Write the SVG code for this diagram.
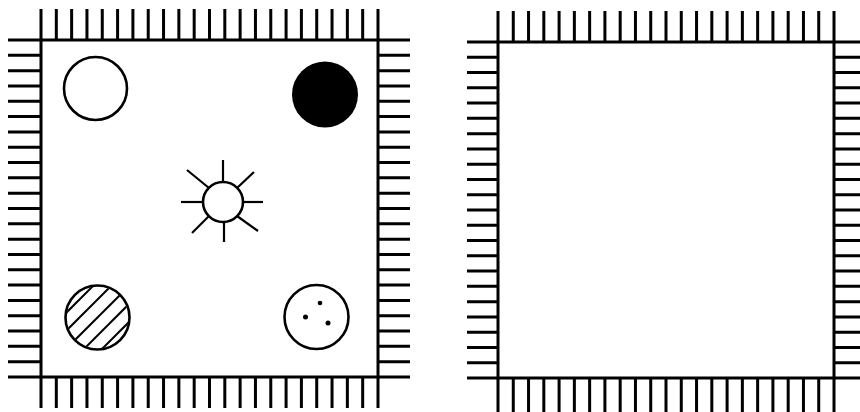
<svg xmlns="http://www.w3.org/2000/svg" width="860" height="412" viewBox="0 0 860 412">
  <defs>
    <style>
      .body { fill: #fff; stroke: #000; stroke-width: 3; }
      .pinsL { fill: none; stroke: #000; stroke-dasharray: 3 12.318; }
      .pinsR { fill: none; stroke: #000; stroke-dasharray: 3 12.273; }
      .ring { fill: #fff; stroke: #000; stroke-width: 2.6; }
      .ray { stroke: #000; stroke-width: 2.2; stroke-linecap: butt; }
      .hatch { stroke: #000; stroke-width: 2; }
    </style>
    <clipPath id="hclip"><circle cx="97.5" cy="317.5" r="31"/></clipPath>
  </defs>
  <rect width="860" height="412" fill="#fff"/>

  <g id="chip-left">
    <line class="pinsL" x1="39.5" y1="24.5" x2="379.5" y2="24.5" stroke-width="31"/>
    <line class="pinsL" x1="39.5" y1="392.5" x2="379.5" y2="392.5" stroke-width="31"/>
    <line class="pinsL" x1="24.5" y1="38.5" x2="24.5" y2="378.5" stroke-width="33"/>
    <line class="pinsL" x1="394" y1="38.5" x2="394" y2="378.5" stroke-width="32"/>
    <rect class="body" x="41" y="40" width="337" height="337"/>
  </g>

  <g id="chip-right">
    <line class="pinsR" x1="496.5" y1="26.5" x2="835.5" y2="26.5" stroke-width="31"/>
    <line class="pinsR" x1="496.5" y1="395" x2="835.5" y2="395" stroke-width="34"/>
    <line class="pinsR" x1="482.5" y1="40.5" x2="482.5" y2="379.5" stroke-width="31"/>
    <line class="pinsR" x1="848" y1="40.5" x2="848" y2="379.5" stroke-width="28"/>
    <rect class="body" x="498" y="42" width="336" height="336"/>
  </g>

  <g id="open-circle">
    <circle class="ring" cx="95.5" cy="88.5" r="31.5"/>
  </g>

  <g id="filled-circle">
    <circle cx="325" cy="94.5" r="33" fill="#000"/>
  </g>

  <g id="sun">
    <circle class="ring" cx="223" cy="202" r="20"/>
    <line class="ray" x1="223" y1="182" x2="223" y2="160"/>
    <line class="ray" x1="224" y1="222" x2="224" y2="242"/>
    <line class="ray" x1="203" y1="202" x2="181" y2="202"/>
    <line class="ray" x1="243" y1="202" x2="263" y2="202"/>
    <line class="ray" x1="209" y1="188" x2="187" y2="170"/>
    <line class="ray" x1="237" y1="188" x2="254" y2="172"/>
    <line class="ray" x1="209" y1="216" x2="192" y2="233"/>
    <line class="ray" x1="237" y1="216" x2="258" y2="231"/>
  </g>

  <g id="hatched-circle">
    <g clip-path="url(#hclip)">
      <line class="hatch" x1="40" y1="339" x2="140" y2="239"/>
      <line class="hatch" x1="40" y1="357" x2="158" y2="239"/>
      <line class="hatch" x1="40" y1="375" x2="176" y2="239"/>
      <line class="hatch" x1="40" y1="393" x2="194" y2="239"/>
      <line class="hatch" x1="40" y1="411" x2="212" y2="239"/>
    </g>
    <circle cx="97.5" cy="317.5" r="32" fill="none" stroke="#000" stroke-width="2.6"/>
  </g>

  <g id="dotted-circle">
    <circle class="ring" cx="316.5" cy="317" r="32"/>
    <circle cx="320" cy="303" r="2.3" fill="#000"/>
    <circle cx="305.5" cy="317" r="2.5" fill="#000"/>
    <circle cx="328" cy="323" r="2.5" fill="#000"/>
  </g>

  <g id="connectors"></g>
</svg>
